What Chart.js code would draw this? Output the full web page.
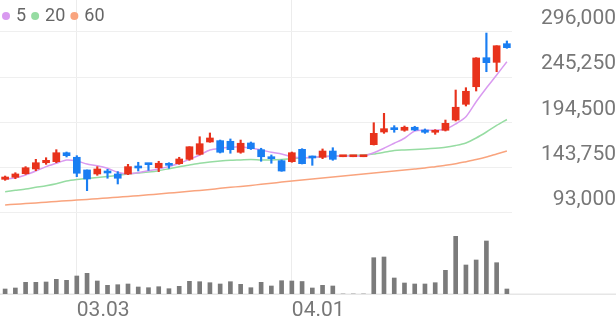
<!DOCTYPE html>
<html>
<head>
<meta charset="utf-8">
<script src="https://cdn.jsdelivr.net/npm/chart.js@4.4.0/dist/chart.umd.min.js"></script>
<style>
  html, body { margin: 0; padding: 0; background: #fff; }
  #wrap { width: 616px; height: 321px; }
</style>
</head>
<body>
<div id="wrap"><canvas id="myChart"></canvas></div>
<script>
const dates = [
  '02.20', '02.21', '02.24', '02.25', '02.26', '02.27', '02.28',
  '03.03', '03.04', '03.05', '03.06', '03.07', '03.10', '03.11', '03.12', '03.13', '03.14',
  '03.17', '03.18', '03.19', '03.20', '03.21', '03.24', '03.25', '03.26', '03.27', '03.28', '03.31',
  '04.01', '04.02', '04.03', '04.04', '04.07', '04.08', '04.09', '04.10', '04.11',
  '04.14', '04.15', '04.16', '04.17', '04.18', '04.21', '04.22', '04.23', '04.24', '04.25',
  '04.28', '04.29', '04.30'
];

const opens = [
  130700, 133000, 137000, 142300, 149300, 150500, 160500, 155400, 141200, 136700,
  139700, 136700, 136700, 145600, 148200, 143700, 147900, 148200, 153100, 158700,
  172500, 174000, 173300, 161000, 171400, 163900, 155700, 151600, 150500, 164300,
  156000, 155400, 162400, 156000, 156000, 156000, 169500, 183700, 187800, 185600,
  189000, 185900, 183400, 185600, 197100, 214700, 234400, 266900, 261700, 282600
];
const highs = [
  134400, 138100, 144900, 153100, 154900, 163900, 161300, 157200, 141200, 144900,
  141900, 139300, 147500, 149800, 148700, 150900, 149300, 155400, 167200, 178400,
  182600, 174700, 175900, 174700, 172500, 165500, 158000, 152400, 161300, 165000,
  156800, 164700, 166100, 156000, 156000, 156000, 194100, 204600, 190800, 190400,
  190100, 187100, 186300, 197100, 230700, 233300, 266900, 294500, 280300, 285600
];
const lows = [
  129600, 131400, 136300, 140400, 147500, 149300, 155700, 133700, 118000, 135200,
  131900, 125500, 135900, 140000, 140800, 139300, 143100, 147500, 152000, 158000,
  172200, 160200, 159900, 159900, 164100, 150900, 148700, 139700, 149800, 147900,
  146400, 153800, 152000, 156000, 156000, 156000, 169100, 182200, 183400, 184500,
  185200, 182200, 181100, 184800, 196000, 212800, 229600, 251200, 251200, 277400
];
const closes = [
  133300, 136700, 143700, 149300, 152000, 160500, 157200, 137500, 131100, 142300,
  137800, 131900, 144900, 143400, 147100, 148700, 146400, 153500, 167200, 170600,
  177000, 161000, 163900, 171100, 165000, 156000, 153800, 140000, 160500, 148200,
  154600, 162400, 153100, 156000, 156000, 156000, 182200, 187400, 186300, 189000,
  185900, 183400, 185600, 193400, 211400, 229300, 266600, 261300, 280300, 278100
];
const volumes = [
  50000, 60000, 117000, 117000, 120000, 147000, 137000, 180000, 207000, 130000,
  87000, 93000, 100000, 70000, 63000, 73000, 53000, 77000, 127000, 123000,
  113000, 100000, 123000, 97000, 63000, 117000, 80000, 133000, 130000, 125000,
  60000, 87000, 80000, 0, 0, 0, 363000, 370000, 160000, 110000,
  100000, 100000, 113000, 237000, 577000, 290000, 340000, 530000, 313000, 50000
];

const ma5 = [
  131100, 132500, 135600, 140000, 144900, 148700, 152400, 151200, 147900, 146000,
  143100, 138600, 136700, 138100, 140400, 142300, 144900, 148700, 153100, 158000,
  163600, 165500, 166600, 167200, 165500, 163600, 161000, 159100, 156100, 154900,
  155400, 156100, 156800, 156800, 156800, 156800, 160500, 165500, 171100, 176700,
  184800, 185600, 185600, 186700, 192700, 200800, 217600, 233000, 247500, 262400
];
const ma20 = [
  116900, 118400, 119900, 121800, 123600, 125800, 128800, 130500, 131600, 132800,
  133900, 135200, 136700, 137800, 138900, 140400, 142600, 144900, 146800, 148700,
  150100, 151200, 152000, 152400, 152900, 152400, 152400, 152900, 153800, 154600,
  155400, 156100, 156800, 157200, 157600, 158000, 159100, 161000, 163000, 163600,
  164100, 164700, 165500, 166600, 168600, 171400, 177000, 183700, 191000, 197700
];
const ma60 = [
  102000, 102800, 103500, 104300, 105100, 105900, 106700, 107500, 108200, 109000,
  109800, 110700, 111500, 112400, 113300, 114300, 115300, 116300, 117300, 118300,
  119400, 120600, 121700, 122800, 123900, 125100, 126400, 127600, 128800, 130000,
  131100, 132200, 133300, 134400, 135600, 136700, 137800, 138900, 140000, 141200,
  142300, 143400, 144900, 146400, 148200, 150500, 152900, 155700, 159100, 162400
];

const priceTicks = [93000, 143750, 194500, 245250, 296000];
const dateTicks = ['03.03', '04.01'];

const UP = '#e8321c';
const DOWN = '#1a7ef2';
const candleColors = opens.map((o, i) => closes[i] >= o ? UP : DOWN);

Chart.defaults.font.family = 'Roboto';

const baseLine = {
  id: 'baseLine',
  beforeDatasetsDraw(chart) {
    const { ctx, chartArea } = chart;
    ctx.save();
    ctx.fillStyle = '#e6e6e6';
    ctx.fillRect(0, chartArea.bottom - 0.5, chart.width, 1.5);
    ctx.restore();
  }
};

// small dot legend in the top-left corner, over the plot
const maLegend = {
  id: 'maLegend',
  afterDraw(chart) {
    const { ctx } = chart;
    ctx.save();
    ctx.font = '18px Roboto';
    ctx.textBaseline = 'middle';
    let x = 2;
    const y = 16;
    chart.data.datasets.filter(d => d.type === 'line').forEach(d => {
      ctx.fillStyle = d.borderColor;
      ctx.beginPath();
      ctx.arc(x + 4, y, 4, 0, Math.PI * 2);
      ctx.fill();
      ctx.fillStyle = '#666';
      ctx.fillText(d.label, x + 14, y);
      x += 14 + ctx.measureText(d.label).width + 5;
    });
    ctx.restore();
  }
};

const ctx = document.getElementById('myChart');

new Chart(ctx, {
  type: 'bar',
  data: {
    labels: dates,
    datasets: [
      {
        label: 'body',
        data: opens.map((o, i) => [o, closes[i]]),
        backgroundColor: candleColors,
        barThickness: 7,
        minBarLength: 2,
        grouped: false,
        yAxisID: 'y',
        order: 0
      },
      {
        label: 'wick',
        data: lows.map((l, i) => [l, highs[i]]),
        backgroundColor: candleColors,
        barThickness: 1.5,
        grouped: false,
        yAxisID: 'y',
        order: 1
      },
      {
        type: 'line', label: '5', data: ma5,
        borderColor: '#d99af0', backgroundColor: '#d99af0',
        borderWidth: 1.5, pointRadius: 0, tension: 0.25, yAxisID: 'y', order: 2
      },
      {
        type: 'line', label: '20', data: ma20,
        borderColor: '#96dca2', backgroundColor: '#96dca2',
        borderWidth: 1.5, pointRadius: 0, tension: 0.25, yAxisID: 'y', order: 2
      },
      {
        type: 'line', label: '60', data: ma60,
        borderColor: '#f9a47e', backgroundColor: '#f9a47e',
        borderWidth: 1.5, pointRadius: 0, tension: 0.25, yAxisID: 'y', order: 2
      },
      {
        label: 'volume',
        data: volumes,
        backgroundColor: '#7b7b7b',
        barThickness: 4,
        grouped: false,
        yAxisID: 'yVol',
        order: 3
      }
    ]
  },
  options: {
    responsive: true,
    maintainAspectRatio: false,
    animation: false,
    layout: { padding: 0 },
    plugins: {
      tooltip: { enabled: false },
      legend: { display: false }
    },
    scales: {
      x: {
        offset: true,
        grid: {
          offset: false,
          drawTicks: false,
          color: c => c.tick && dateTicks.includes(c.tick.label) ? '#ececec' : 'rgba(0,0,0,0)'
        },
        border: { display: false },
        ticks: {
          autoSkip: false,
          maxRotation: 0,
          align: 'start',
          padding: 4,
          color: '#777',
          font: { size: 21 },
          callback: function (value) {
            const l = this.getLabelForValue(value);
            return dateTicks.includes(l) ? l : '';
          }
        },
        afterFit: s => { s.height = 27; }
      },
      y: {
        position: 'right',
        min: 2300,
        max: 331500,
        afterBuildTicks: s => { s.ticks = priceTicks.map(v => ({ value: v })); },
        afterFit: s => {
          s.width = 104;
          s.paddingTop = 0;
          s.paddingBottom = 0;
        },
        grid: { color: '#efefef', drawTicks: false },
        border: { display: false },
        ticks: {
          padding: 25,
          crossAlign: 'far',
          labelOffset: -13,
          color: '#777',
          font: { size: 21 },
          callback: v => v.toLocaleString('en-US')
        }
      },
      yVol: {
        display: false,
        min: 0,
        max: 2940000
      }
    }
  },
  plugins: [baseLine, maLegend]
});
</script>
</body>
</html>
